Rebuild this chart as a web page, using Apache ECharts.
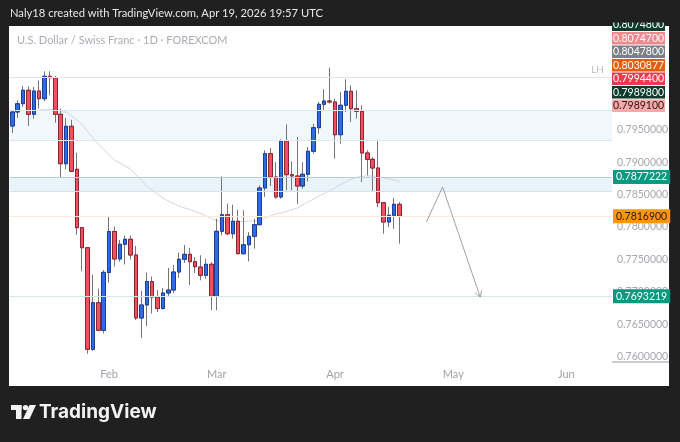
<!DOCTYPE html>
<html><head><meta charset="utf-8">
<script src="https://cdn.jsdelivr.net/npm/echarts@6/dist/echarts.min.js"></script>
<style>
html,body{margin:0;padding:0;background:#202020;width:680px;height:442px;overflow:hidden}
#panel{position:absolute;left:9px;top:26px;width:660px;height:360px;background:#ffffff}
#chart{position:absolute;left:0;top:0;width:680px;height:442px}
</style></head><body><div id="panel"></div><div id="chart"></div>
<script>
const dates = [
'2026-01-07','2026-01-08','2026-01-09','2026-01-12','2026-01-13','2026-01-14','2026-01-15','2026-01-16','2026-01-19','2026-01-20',
'2026-01-21','2026-01-22','2026-01-23','2026-01-26','2026-01-27','2026-01-28','2026-01-29','2026-01-30',
'2026-02-02','2026-02-03','2026-02-04','2026-02-05','2026-02-06','2026-02-09','2026-02-10','2026-02-11','2026-02-12','2026-02-13',
'2026-02-16','2026-02-17','2026-02-18','2026-02-19','2026-02-20','2026-02-23','2026-02-24','2026-02-25','2026-02-26','2026-02-27',
'2026-03-02','2026-03-03','2026-03-04','2026-03-05','2026-03-06','2026-03-09','2026-03-10','2026-03-11','2026-03-12','2026-03-13',
'2026-03-16','2026-03-17','2026-03-18','2026-03-19','2026-03-20','2026-03-23','2026-03-24','2026-03-25','2026-03-26','2026-03-27',
'2026-03-30','2026-03-31',
'2026-04-01','2026-04-02','2026-04-03','2026-04-06','2026-04-07','2026-04-08','2026-04-09','2026-04-10','2026-04-13','2026-04-14',
'2026-04-15','2026-04-16','2026-04-17',
'2026-04-20','2026-04-21','2026-04-22','2026-04-23','2026-04-24','2026-04-27','2026-04-28','2026-04-29','2026-04-30',
'2026-05-01','2026-05-04','2026-05-05','2026-05-06','2026-05-07','2026-05-08','2026-05-11','2026-05-12','2026-05-13','2026-05-14',
'2026-05-15','2026-05-18','2026-05-19','2026-05-20','2026-05-21','2026-05-22','2026-05-25','2026-05-26','2026-05-27','2026-05-28',
'2026-05-29','2026-06-01','2026-06-02','2026-06-03','2026-06-04','2026-06-05','2026-06-08','2026-06-09','2026-06-10','2026-06-11'
];
const opens = [0.79560,0.79776,0.79904,0.80111,0.79741,0.80100,0.79981,0.80327,0.80306,0.79741,
0.78978,0.79556,0.78892,0.77991,0.77682,0.76114,0.76833,0.76407,0.77299,0.77932,
0.77508,0.77735,0.77812,0.77569,0.76597,0.76798,0.77160,0.76921,0.76744,0.76983,
0.77029,0.77307,0.77503,0.77580,0.77466,0.77384,0.77256,0.77426,0.76932,0.77935,
0.78191,0.77898,0.78090,0.77590,0.77728,0.77858,0.78037,0.78603,0.79133,0.78773,
0.78465,0.79329,0.78809,0.78789,0.78634,0.78815,0.79170,0.79534,0.79895,0.79946,
0.79931,0.79426,0.79880,0.80096,0.79827,0.79787,0.79144,0.79046,0.78912,0.78377,
0.78079,0.78182,0.78352];
const closes = [0.79776,0.79904,0.80111,0.79741,0.80100,0.79981,0.80327,0.80306,0.79741,0.78978,
0.79556,0.78861,0.77991,0.77682,0.76114,0.76833,0.76407,0.77302,0.77932,0.77508,
0.77735,0.77812,0.77569,0.76597,0.76798,0.77160,0.76921,0.76744,0.76983,0.77029,
0.77307,0.77503,0.77580,0.77466,0.77389,0.77256,0.77426,0.76932,0.77935,0.78191,
0.77898,0.78090,0.77590,0.77728,0.77858,0.78037,0.78603,0.79133,0.78773,0.78465,
0.79329,0.78809,0.78789,0.78634,0.78815,0.79170,0.79534,0.79895,0.79946,0.79931,
0.79426,0.79880,0.80096,0.79827,0.79787,0.79144,0.79046,0.78912,0.78377,0.78079,
0.78182,0.78352,0.78169];
const highs = [0.79807,0.79957,0.80177,0.80173,0.80162,0.80265,0.80404,0.80404,0.80332,0.79827,
0.79684,0.79657,0.79148,0.78000,0.77690,0.77265,0.77049,0.77338,0.78171,0.78009,
0.77801,0.77870,0.77870,0.77708,0.77014,0.77299,0.77238,0.77029,0.77060,0.77369,
0.77415,0.77605,0.77724,0.77678,0.77539,0.77565,0.77512,0.77461,0.78130,0.78784,
0.78361,0.78346,0.78269,0.78259,0.77924,0.78130,0.78645,0.79185,0.79221,0.79005,
0.79355,0.79586,0.79015,0.79390,0.79005,0.79236,0.79596,0.79931,0.80127,0.80460,
0.79981,0.80085,0.80281,0.80188,0.80111,0.79880,0.79185,0.79082,0.79349,0.78387,
0.78310,0.78449,0.78387];
const lows = [0.79452,0.79684,0.79853,0.79560,0.79673,0.79827,0.79941,0.80034,0.79611,0.78773,
0.78892,0.78850,0.77883,0.77318,0.76046,0.76088,0.76397,0.76361,0.77142,0.77392,
0.77466,0.77423,0.77503,0.76566,0.76289,0.76474,0.76667,0.76690,0.76728,0.76937,
0.76983,0.77215,0.77446,0.77107,0.77292,0.77179,0.77204,0.76716,0.76716,0.77874,
0.77874,0.77821,0.77580,0.77574,0.77472,0.77667,0.78028,0.78465,0.78634,0.78438,
0.78438,0.78568,0.78568,0.78361,0.78593,0.78707,0.79133,0.79441,0.79803,0.79904,
0.79056,0.79287,0.79776,0.79622,0.79673,0.78696,0.78799,0.78542,0.78310,0.77898,
0.78002,0.77975,0.77744];
const maValues = [null,null,null,null,null,
0.79807,0.79815,0.79818,0.79815,0.79799,
0.79769,0.79715,0.79653,0.79576,0.79475,0.79375,0.79282,0.79205,0.79113,0.79036,
0.78989,0.78943,0.78889,0.78804,0.78727,0.78634,0.78573,0.78511,0.78449,0.78403,
0.78364,0.78326,0.78295,0.78272,0.78241,0.78210,0.78171,0.78133,0.78102,0.78086,
0.78086,0.78086,0.78086,0.78086,0.78094,0.78094,0.78110,0.78140,0.78171,0.78202,
0.78218,0.78241,0.78272,0.78295,0.78341,0.78387,0.78434,0.78480,0.78519,0.78565,
0.78603,0.78657,0.78696,0.78735,0.78765,0.78781,0.78789,0.78789,0.78773,0.78758,
0.78742,0.78727,0.78707];
const priceTicks = [0.760,0.765,0.770,0.775,0.780,0.785,0.790,0.795];
const monthTicks = {'2026-02-02':'Feb','2026-03-02':'Mar','2026-04-01':'Apr','2026-05-01':'May','2026-06-01':'Jun'};
const zoneUpper = [0.79333, 0.79802];
const zoneLower = [0.78552, 0.7877222];
const lhLevel = 0.8030877;
const lastPrice = 0.78169;
const targetLevel = 0.7693219;
const arrowDates = ['2026-04-24','2026-04-29','2026-05-08'];
const arrowPrices = [0.78080, 0.78619, 0.76921];
const stackLabels = ['0.8074800','0.8074700','0.8047800','0.8030877','0.7994400','0.7989800','0.7989100'];
const stackFills = ['#0d3b2e','#f08a8c','#7d7f87','#e35d0a','#f0394f','#0d3b2e','#f7a8a8'];
const stackText = ['#ffffff','#ffffff','#ffffff','#ffffff','#ffffff','#ffffff','#2a1515'];

const chart = echarts.init(document.getElementById('chart'), null, {renderer:'canvas'});
const yMin = 0.759182, yMax = 0.811034;
const ohlc = opens.map((o,i)=>[o, closes[i], lows[i], highs[i]]);
const bodies = opens.map((o,i)=>[o, closes[i], Math.min(o,closes[i]), Math.max(o,closes[i])]);
const font = 'Lato, "Noto Sans", sans-serif';

function endLabel(text, bg, fg){
  return {show:true, position:'end', distance:1, formatter:text, backgroundColor:bg, color:fg,
    fontSize:10.5, fontFamily:font, padding:[2,3,1,3], borderRadius:0};
}

const graphics = [
  {type:'text', x:10, y:8, z:100, style:{text:'Naly18 created with TradingView.com, Apr 19, 2026 19:57 UTC', fill:'#e8e8e8', font:'11.2px '+font}},
  {type:'text', x:17, y:35, z:100, style:{text:'U.S. Dollar / Swiss Franc \u00b7 1D \u00b7 FOREXCOM', fill:'#a9acb4', font:'11px '+font}},
  {type:'text', x:39, y:403, z:100, style:{text:'TradingView', fill:'#f2f2f2', font:'bold 19px Inter, '+font}},
  {type:'rect', z:100, shape:{x:11, y:405, width:10.5, height:5}, style:{fill:'#f2f2f2'}},
  {type:'rect', z:100, shape:{x:16, y:405, width:5.5, height:14}, style:{fill:'#f2f2f2'}},
  {type:'circle', z:100, shape:{cx:25.5, cy:407.6, r:2.7}, style:{fill:'#f2f2f2'}},
  {type:'polygon', z:100, shape:{points:[[29.5,405],[36,405],[29.5,419],[23,419]]}, style:{fill:'#f2f2f2'}},
  {type:'line', z:100, shape:{x1:612, y1:362, x2:669, y2:362}, style:{stroke:'#9b9b9b', lineWidth:1}}
];
stackLabels.forEach((t,i)=>{
  const top = 18.5 + i*13.5;
  graphics.push({type:'rect', z:110, shape:{x:612, y:top, width:53, height:12.5}, style:{fill:stackFills[i]}});
  graphics.push({type:'text', z:111, x:638.5, y:top+6.5, style:{text:t, fill:stackText[i], font:'10.5px '+font, textAlign:'center', textVerticalAlign:'middle', align:'center', verticalAlign:'middle'}});
});
graphics.push({type:'rect', z:120, shape:{x:605, y:0, width:75, height:22.5}, style:{fill:'#202020'}});

const option = {
  animation:false,
  backgroundColor:'transparent',
  textStyle:{fontFamily:font},
  grid:{left:9.6, right:68, top:26, bottom:80},
  xAxis:{type:'category', data:dates, boundaryGap:true,
    axisLine:{show:false}, axisTick:{show:false}, splitLine:{show:false},
    axisLabel:{interval:(i,v)=>!!monthTicks[v], formatter:v=>monthTicks[v]||'', color:'#9fa2aa', fontSize:11, margin:7}},
  yAxis:{type:'value', position:'right', min:yMin, max:yMax, scale:true,
    splitLine:{show:false}, axisLine:{show:false}, axisTick:{show:false},
    axisLabel:{customValues:priceTicks, formatter:v=>v.toFixed(7), color:'#a5a8b0', fontSize:10.5, margin:5}},
  graphic:graphics,
  series:[
    {type:'line', data:maValues, smooth:true, showSymbol:false, silent:true, z:1,
      lineStyle:{color:'#d3d3d3', width:1},
      markArea:{silent:true, data:[
        [{yAxis:zoneUpper[0], itemStyle:{color:'#f0f8fc'}},{yAxis:zoneUpper[1]}],
        [{yAxis:zoneLower[0], itemStyle:{color:'#e8f4fa'}},{yAxis:zoneLower[1]}]
      ]},
      markLine:{silent:true, precision:7, symbol:['none','none'], data:[
        {yAxis:lhLevel, lineStyle:{color:'#e4e4e4', width:1, type:'solid'}, label:{show:true, position:'insideEndTop', formatter:'LH', color:'#b9bcc4', fontSize:10, distance:[8,3]}},
        {yAxis:zoneUpper[1], lineStyle:{color:'#dfe6ec', width:1, type:'solid'}, label:{show:false}},
        {yAxis:zoneUpper[0], lineStyle:{color:'#dfe6ec', width:1, type:'solid'}, label:{show:false}},
        {yAxis:zoneLower[1], lineStyle:{color:'#b9cedb', width:1, type:'solid'}, label:endLabel('0.7877222','#089981','#ffffff')},
        {yAxis:zoneLower[0], lineStyle:{color:'#d6e3ec', width:1, type:'solid'}, label:{show:false}},
        {yAxis:lastPrice, lineStyle:{color:'#f7ecdd', width:1, type:'solid'}, label:endLabel('0.7816900','#ff9800','#1a1a1a')},
        {yAxis:targetLevel, lineStyle:{color:'#d3e8ea', width:1, type:'solid'}, label:endLabel('0.7693219','#089981','#ffffff')}
      ]}
    },
    {type:'candlestick', data:ohlc, barWidth:4, silent:true, z:3,
      itemStyle:{color:'#2f6be6', color0:'#f0505f', borderColor:'#767676', borderColor0:'#767676', borderWidth:1}},
    {type:'candlestick', data:bodies, barWidth:4, silent:true, z:4,
      itemStyle:{color:'#2f6be6', color0:'#f0505f', borderColor:'#1c3d96', borderColor0:'#8d2230', borderWidth:1}},
    {type:'custom', silent:true, z:5, clip:false,
      data:[[dates.indexOf(arrowDates[0]), arrowPrices[0]]],
      renderItem:function(params, api){
        const pts = arrowDates.map((d,i)=>api.coord([dates.indexOf(d), arrowPrices[i]]));
        const a = pts[pts.length-2], b = pts[pts.length-1];
        const ang = Math.atan2(b[1]-a[1], b[0]-a[0]);
        const L = 7, s = 0.55;
        const h1 = [b[0]-L*Math.cos(ang-s), b[1]-L*Math.sin(ang-s)];
        const h2 = [b[0]-L*Math.cos(ang+s), b[1]-L*Math.sin(ang+s)];
        return {type:'group', children:[
          {type:'polyline', shape:{points:pts}, style:{stroke:'#a0a0a0', lineWidth:1, fill:null}},
          {type:'polyline', shape:{points:[h1,b,h2]}, style:{stroke:'#a0a0a0', lineWidth:1, fill:null}}
        ]};
      }
    }
  ]
};
chart.setOption(option);
</script></body></html>
